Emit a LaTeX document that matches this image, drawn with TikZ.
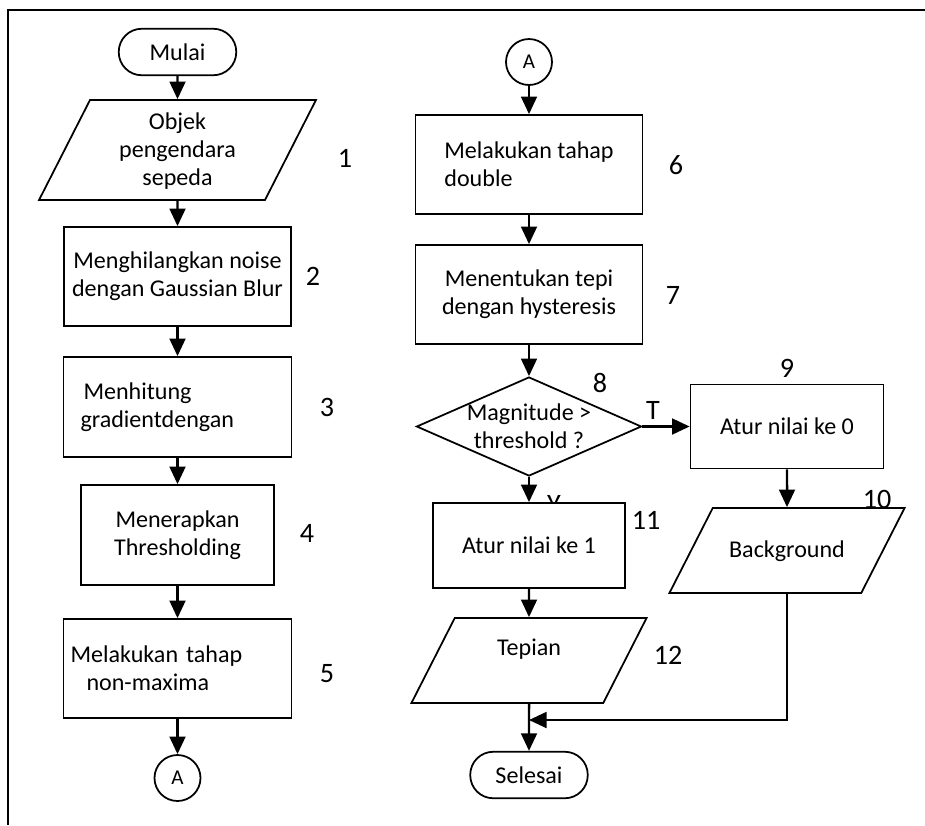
\documentclass[tikz,border=0pt]{standalone}
\usepackage{fontspec}
\setmainfont{Carlito}
\usetikzlibrary{arrows.meta,shapes.geometric}

\begin{document}
\begin{tikzpicture}[
  font=\fontsize{13.7}{16}\selectfont,
  box/.style={draw, line width=1pt, align=center, minimum width=4.54cm, minimum height=1.98cm},
  io/.style={draw, line width=1pt, trapezium, trapezium left angle=63, trapezium right angle=117, inner sep=0pt, align=center, text width=2.97cm, text height=0.995cm, text depth=0.705cm},
  term/.style={draw, line width=1pt, rounded corners=0.46cm, minimum width=2.35cm, minimum height=0.93cm},
  decision/.style={draw, line width=1pt, diamond, minimum width=4.5cm, minimum height=1.98cm, inner sep=0pt},
  conn/.style={draw, line width=1pt, circle, minimum size=0.92cm, inner sep=0pt, font=\fontsize{12}{14}\selectfont},
  flow/.style={-{Triangle[length=10pt,width=9pt]}, line width=1.4pt},
  num/.style={font=\fontsize{16}{19}\selectfont}
]
  \useasboundingbox (0,0) rectangle (18.5,-16.5);
  % frame
  \draw[line width=1.2pt] (18.5,-0.2) -- (0.16,-0.2) -- (0.16,-16.5);

  % left column
  \node[term] (mulai) at (3.55,-1.04) {Mulai};
  \node[io, text width=3.5cm, text height=0.58cm, text depth=1.42cm] (objek) at (3.55,-3.0) {Objek\\pengendara\\sepeda};
  \node[box] (noise) at (3.55,-5.53) {Menghilangkan noise\\dengan Gaussian Blur};
  \node[box, minimum width=4.56cm, minimum height=2cm, align=left, inner xsep=0.34cm, text width=3.88cm] (gradien) at (3.55,-8.14) {\hspace*{0.06cm}Menhitung\\gradientdengan};
  \node[box, minimum width=3.86cm, minimum height=2cm] (thresh) at (3.55,-10.7) {Menerapkan\\Thresholding};
  \node[box, minimum width=4.56cm, align=left, inner xsep=0.14cm, text width=4.28cm] (nonmax) at (3.55,-13.37) {Melakukan tahap\\\hspace*{0.32cm}non-maxima};
  \node[conn] (keA) at (3.55,-15.56) {A};

  % right column
  \node[conn] (dariA) at (10.58,-1.24) {A};
  \node[box, align=left] (double) at (10.58,-3.29) {Melakukan tahap\\double};
  \node[box] (hyst) at (10.58,-5.89) {Menentukan tepi\\dengan hysteresis};
  \node[decision, label={[align=center]center:Magnitude >\\threshold ?}] (magn) at (10.58,-8.53) {};
  \node[box, minimum width=3.86cm, minimum height=1.68cm] (nol) at (15.74,-8.53) {Atur nilai ke 0};
  \node[io] (bg) at (15.74,-11.01) {Background};
  \node[num] (ya) at (11.08,-10.08) {Y};
  \node[box, fill=white, minimum width=3.84cm, minimum height=1.7cm] (satu) at (10.58,-10.91) {Atur nilai ke 1};
  \node[io, text height=0.755cm, text depth=0.945cm] (tepian) at (10.58,-13.21) {Tepian};
  \node[term] (selesai) at (10.58,-15.5) {Selesai};
  \coordinate (gabung) at (10.58,-14.4);

  % step numbers
  \node[num] (n1) at (6.9,-3.16) {1};
  \node[num] (n2) at (6.26,-5.52) {2};
  \node[num] (n3) at (6.54,-8.14) {3};
  \node[num] (n4) at (6.14,-10.66) {4};
  \node[num] (n5) at (6.54,-13.48) {5};
  \node[num] (n6) at (13.52,-3.3) {6};
  \node[num] (n7) at (13.46,-5.9) {7};
  \node[num] (n8) at (12.0,-7.66) {8};
  \node[num] (n9) at (15.74,-7.36) {9};
  \node[num] (n10) at (17.54,-9.98) {10};
  \node[num] (n11) at (12.92,-10.4) {11};
  \node[num] (n12) at (13.36,-13.1) {12};
  \node[num] (tidak) at (13.06,-8.2) {T};

  % connectors
  \draw[flow] (mulai) -- (objek);
  \draw[flow] (objek) -- (noise);
  \draw[flow] (noise) -- (gradien);
  \draw[flow] (gradien) -- (thresh);
  \draw[flow] (thresh) -- (nonmax);
  \draw[flow] (nonmax) -- (keA);
  \draw[flow] (dariA) -- (double);
  \draw[flow] (double) -- (hyst);
  \draw[flow] (hyst) -- (magn);
  \draw[flow] (magn) -- (nol);
  \draw[flow] (magn) -- (satu);
  \draw[flow] (nol) -- (bg);
  \draw[flow] (satu) -- (tepian);
  \draw[flow] (tepian) -- (selesai);
  \draw[flow] (bg) |- (gabung);
\end{tikzpicture}
\end{document}
